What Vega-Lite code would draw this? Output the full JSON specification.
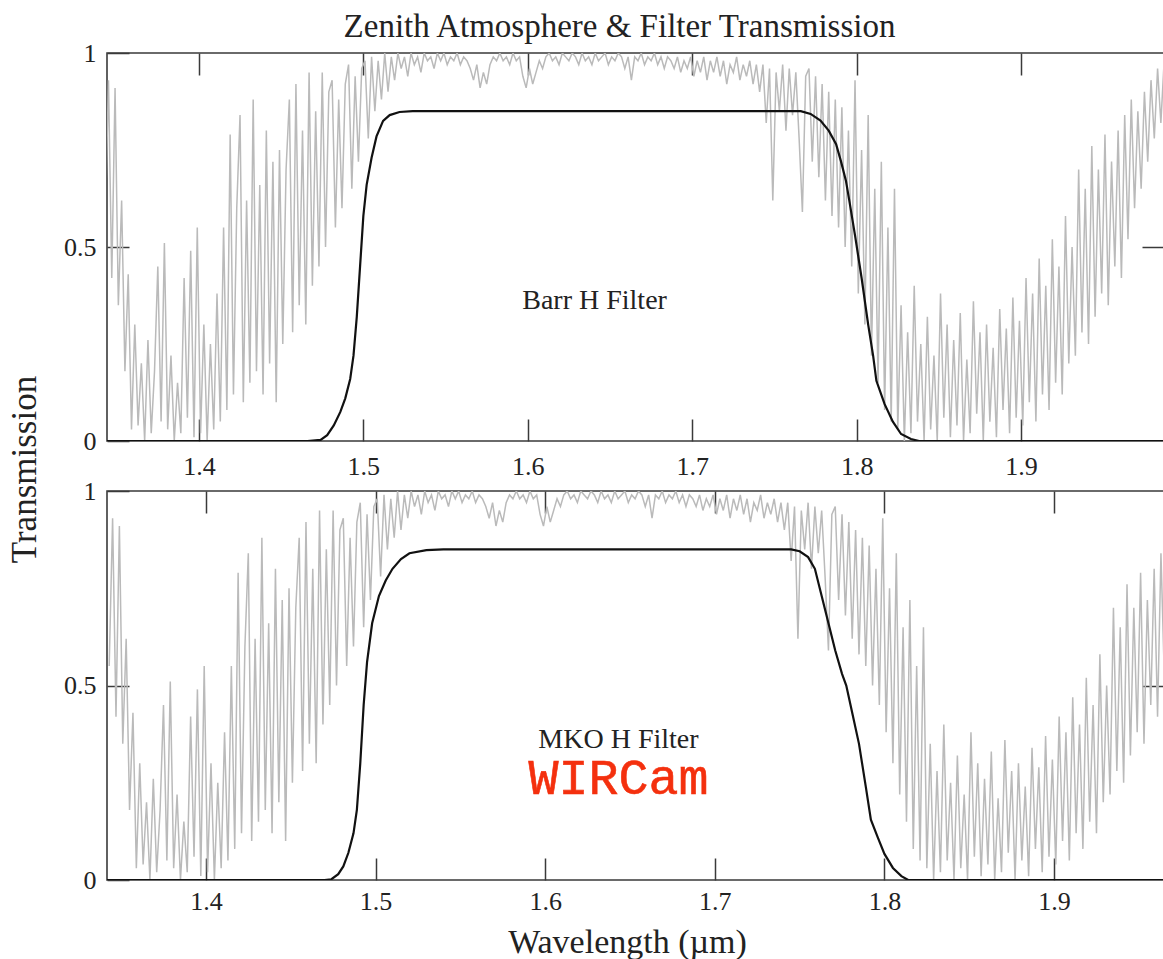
{
  "$schema": "https://vega.github.io/schema/vega-lite/v6.json",
  "background": "white",
  "padding": {"left": 6, "top": 11, "right": 0, "bottom": 0},
  "title": {"text": "Zenith Atmosphere & Filter Transmission", "font": "Liberation Serif", "fontSize": 33, "fontWeight": "normal", "color": "#222222", "anchor": "middle", "frame": "group", "baseline": "alphabetic", "offset": -31, "dx": -16},
  "config": {
    "font": "Liberation Serif",
    "view": {"stroke": "#3a3a3a", "strokeWidth": 1.6},
    "axis": {"grid": false, "domain": false, "tickColor": "#3a3a3a", "tickWidth": 1.5, "labelColor": "#222222", "labelFont": "Liberation Serif", "titleFont": "Liberation Serif", "titleColor": "#222222", "titleFontWeight": "normal", "labelFlush": false}
  },
  "bounds": "flush",
  "spacing": 50,
  "datasets": {
    "atm": [
      {"w":1.343,"t":0.55},{"w":1.345,"t":0.93},{"w":1.347,"t":0.42},{"w":1.349,"t":0.91},{"w":1.351,"t":0.35},{"w":1.353,"t":0.62},{"w":1.355,"t":0.18},{"w":1.357,"t":0.43},
      {"w":1.359,"t":0.03},{"w":1.361,"t":0.30},{"w":1.363,"t":0.04},{"w":1.365,"t":0.20},{"w":1.367,"t":0.0},{"w":1.369,"t":0.26},{"w":1.371,"t":0.02},{"w":1.373,"t":0.18},{"w":1.375,"t":0.45},{"w":1.377,"t":0.05},{"w":1.379,"t":0.51},{"w":1.381,"t":0.03},{"w":1.383,"t":0.22},{"w":1.385,"t":0.0},{"w":1.387,"t":0.15},{"w":1.389,"t":0.02},{"w":1.391,"t":0.42},{"w":1.393,"t":0.06},{"w":1.395,"t":0.49},{"w":1.397,"t":0.01},{"w":1.399,"t":0.55},{"w":1.401,"t":0.02},{"w":1.403,"t":0.30},{"w":1.405,"t":0.0},{"w":1.407,"t":0.25},{"w":1.409,"t":0.03},{"w":1.411,"t":0.38},
      {"w":1.413,"t":0.05},{"w":1.415,"t":0.55},{"w":1.417,"t":0.08},{"w":1.419,"t":0.79},{"w":1.421,"t":0.12},{"w":1.423,"t":0.60},{"w":1.425,"t":0.84},{"w":1.427,"t":0.10},{"w":1.429,"t":0.62},{"w":1.431,"t":0.15},{"w":1.433,"t":0.88},{"w":1.435,"t":0.18},{"w":1.437,"t":0.66},{"w":1.439,"t":0.12},
      {"w":1.441,"t":0.80},{"w":1.443,"t":0.20},{"w":1.445,"t":0.72},{"w":1.447,"t":0.10},{"w":1.449,"t":0.75},{"w":1.451,"t":0.25},{"w":1.453,"t":0.70},{"w":1.455,"t":0.88},{"w":1.457,"t":0.28},{"w":1.459,"t":0.92},{"w":1.461,"t":0.35},{"w":1.463,"t":0.80},{"w":1.465,"t":0.30},{"w":1.467,"t":0.95},{"w":1.469,"t":0.40},
      {"w":1.471,"t":0.85},{"w":1.473,"t":0.45},{"w":1.475,"t":0.95},{"w":1.477,"t":0.50},{"w":1.479,"t":0.90},{"w":1.481,"t":0.93},{"w":1.483,"t":0.55},{"w":1.485,"t":0.88},{"w":1.487,"t":0.60},{"w":1.489,"t":0.92},{"w":1.491,"t":0.97},{"w":1.493,"t":0.65},{"w":1.495,"t":0.94},{"w":1.497,"t":0.72},{"w":1.499,"t":0.96},{"w":1.501,"t":0.98},
      {"w":1.503,"t":0.78},{"w":1.505,"t":0.99},{"w":1.507,"t":0.85},{"w":1.509,"t":0.98},{"w":1.511,"t":0.88},{"w":1.513,"t":1.0},{"w":1.515,"t":0.90},{"w":1.517,"t":0.99},{"w":1.519,"t":0.93},{"w":1.521,"t":1.0},
      {"w":1.523,"t":0.96},{"w":1.525,"t":0.99},{"w":1.527,"t":0.94},{"w":1.529,"t":1.0},{"w":1.531,"t":0.97},{"w":1.533,"t":0.99},{"w":1.535,"t":0.95},{"w":1.537,"t":1.0},{"w":1.539,"t":0.98},{"w":1.541,"t":0.99},{"w":1.543,"t":0.96},{"w":1.545,"t":1.0},{"w":1.547,"t":0.98},{"w":1.549,"t":1.0},{"w":1.551,"t":0.97},{"w":1.553,"t":0.99},{"w":1.555,"t":0.98},{"w":1.557,"t":1.0},{"w":1.559,"t":0.97},{"w":1.561,"t":0.99},{"w":1.563,"t":0.98},{"w":1.565,"t":0.96},{"w":1.567,"t":0.93},{"w":1.569,"t":0.97},{"w":1.571,"t":0.91},{"w":1.573,"t":0.95},{"w":1.575,"t":0.92},{"w":1.577,"t":0.97},{"w":1.579,"t":0.99},{"w":1.581,"t":0.98},{"w":1.583,"t":1.0},{"w":1.585,"t":0.98},{"w":1.587,"t":0.99},{"w":1.589,"t":0.97},{"w":1.591,"t":1.0},{"w":1.593,"t":0.98},{"w":1.595,"t":0.99},{"w":1.597,"t":0.94},{"w":1.599,"t":0.91},{"w":1.601,"t":0.96},{"w":1.603,"t":0.92},{"w":1.605,"t":0.95},{"w":1.607,"t":0.98},{"w":1.609,"t":0.96},{"w":1.611,"t":0.99},{"w":1.613,"t":1.0},{"w":1.615,"t":0.98},{"w":1.617,"t":0.99},{"w":1.619,"t":0.97},{"w":1.621,"t":1.0},{"w":1.623,"t":0.99},{"w":1.625,"t":0.98},{"w":1.627,"t":1.0},{"w":1.629,"t":0.99},{"w":1.631,"t":0.97},{"w":1.633,"t":1.0},{"w":1.635,"t":0.98},{"w":1.637,"t":0.99},{"w":1.639,"t":0.97},{"w":1.641,"t":1.0},{"w":1.643,"t":0.98},{"w":1.645,"t":0.99},{"w":1.647,"t":1.0},{"w":1.649,"t":0.97},{"w":1.651,"t":0.99},{"w":1.653,"t":0.98},{"w":1.655,"t":1.0},{"w":1.657,"t":0.99},{"w":1.659,"t":0.96},{"w":1.661,"t":0.99},{"w":1.663,"t":0.93},{"w":1.665,"t":0.99},{"w":1.667,"t":0.98},{"w":1.669,"t":1.0},{"w":1.671,"t":0.97},{"w":1.673,"t":0.99},{"w":1.675,"t":0.98},{"w":1.677,"t":1.0},{"w":1.679,"t":0.97},{"w":1.681,"t":0.99},{"w":1.683,"t":0.96},{"w":1.685,"t":0.99},{"w":1.687,"t":0.98},{"w":1.689,"t":0.96},{"w":1.691,"t":0.99},{"w":1.693,"t":0.95},{"w":1.695,"t":0.98},{"w":1.697,"t":0.96},{"w":1.699,"t":0.99},{"w":1.701,"t":0.94},{"w":1.703,"t":0.98},{"w":1.705,"t":0.95},{"w":1.707,"t":0.99},{"w":1.709,"t":0.93},{"w":1.711,"t":0.98},{"w":1.713,"t":0.95},{"w":1.715,"t":0.99},{"w":1.717,"t":0.94},{"w":1.719,"t":0.98},{"w":1.721,"t":0.92},{"w":1.723,"t":0.97},{"w":1.725,"t":0.95},{"w":1.727,"t":0.99},{"w":1.729,"t":0.93},{"w":1.731,"t":0.97},{"w":1.733,"t":0.94},{"w":1.735,"t":0.98},{"w":1.737,"t":0.92},{"w":1.739,"t":0.97},
      {"w":1.741,"t":0.90},{"w":1.743,"t":0.97},{"w":1.745,"t":0.82},{"w":1.747,"t":0.96},{"w":1.749,"t":0.62},{"w":1.751,"t":0.95},{"w":1.753,"t":0.85},{"w":1.755,"t":0.97},{"w":1.757,"t":0.80},{"w":1.759,"t":0.96},{"w":1.761,"t":0.84},{"w":1.763,"t":0.95},{"w":1.765,"t":0.78},{"w":1.767,"t":0.59},{"w":1.769,"t":0.94},
      {"w":1.771,"t":0.96},{"w":1.773,"t":0.72},{"w":1.775,"t":0.94},{"w":1.777,"t":0.68},{"w":1.779,"t":0.92},{"w":1.781,"t":0.62},{"w":1.783,"t":0.90},{"w":1.785,"t":0.58},{"w":1.787,"t":0.88},{"w":1.789,"t":0.55},{"w":1.791,"t":0.86},{"w":1.793,"t":0.50},{"w":1.795,"t":0.80},{"w":1.797,"t":0.45},{"w":1.799,"t":0.93},
      {"w":1.801,"t":0.38},{"w":1.803,"t":0.75},{"w":1.805,"t":0.30},{"w":1.807,"t":0.84},{"w":1.809,"t":0.22},{"w":1.811,"t":0.65},{"w":1.813,"t":0.15},{"w":1.815,"t":0.72},{"w":1.817,"t":0.08},{"w":1.819,"t":0.55},{"w":1.821,"t":0.05},
      {"w":1.823,"t":0.65},{"w":1.825,"t":0.03},{"w":1.827,"t":0.35},{"w":1.829,"t":0.0},{"w":1.831,"t":0.28},{"w":1.833,"t":0.02},{"w":1.835,"t":0.40},{"w":1.837,"t":0.05},{"w":1.839,"t":0.25},{"w":1.841,"t":0.0},{"w":1.843,"t":0.32},{"w":1.845,"t":0.03},{"w":1.847,"t":0.22},{"w":1.849,"t":0.0},{"w":1.851,"t":0.38},{"w":1.853,"t":0.06},{"w":1.855,"t":0.30},{"w":1.857,"t":0.01},{"w":1.859,"t":0.26},{"w":1.861,"t":0.04},{"w":1.863,"t":0.33},{"w":1.865,"t":0.0},{"w":1.867,"t":0.21},{"w":1.869,"t":0.02},{"w":1.871,"t":0.36},{"w":1.873,"t":0.07},{"w":1.875,"t":0.28},{"w":1.877,"t":0.0},{"w":1.879,"t":0.30},{"w":1.881,"t":0.05},{"w":1.883,"t":0.24},{"w":1.885,"t":0.01},{"w":1.887,"t":0.34},{"w":1.889,"t":0.08},{"w":1.891,"t":0.29},{"w":1.893,"t":0.02},{"w":1.895,"t":0.37},{"w":1.897,"t":0.06},{"w":1.899,"t":0.31},{"w":1.901,"t":0.04},
      {"w":1.903,"t":0.42},{"w":1.905,"t":0.10},{"w":1.907,"t":0.38},{"w":1.909,"t":0.05},{"w":1.911,"t":0.47},{"w":1.913,"t":0.12},{"w":1.915,"t":0.40},{"w":1.917,"t":0.08},{"w":1.919,"t":0.52},{"w":1.921,"t":0.15},{"w":1.923,"t":0.45},{"w":1.925,"t":0.12},{"w":1.927,"t":0.58},{"w":1.929,"t":0.20},{"w":1.931,"t":0.50},
      {"w":1.933,"t":0.22},{"w":1.935,"t":0.70},{"w":1.937,"t":0.28},{"w":1.939,"t":0.65},{"w":1.941,"t":0.25},{"w":1.943,"t":0.76},{"w":1.945,"t":0.32},{"w":1.947,"t":0.70},{"w":1.949,"t":0.38},{"w":1.951,"t":0.79},{"w":1.953,"t":0.35},{"w":1.955,"t":0.72},{"w":1.957,"t":0.45},{"w":1.959,"t":0.80},{"w":1.961,"t":0.42},
      {"w":1.963,"t":0.84},{"w":1.965,"t":0.52},{"w":1.967,"t":0.88},{"w":1.969,"t":0.60},{"w":1.971,"t":0.85},{"w":1.973,"t":0.65},{"w":1.975,"t":0.90},{"w":1.977,"t":0.72},{"w":1.979,"t":0.93},{"w":1.981,"t":0.78},{"w":1.983,"t":0.96},{"w":1.985,"t":0.82},{"w":1.987,"t":0.98},{"w":1.989,"t":0.88},{"w":1.991,"t":0.97}
    ],
    "barr": [
      {"w":1.34,"t":0},{"w":1.466,"t":0},{"w":1.474,"t":0.003},{"w":1.478,"t":0.015},{"w":1.482,"t":0.04},{"w":1.486,"t":0.075},{"w":1.489,"t":0.11},{"w":1.492,"t":0.16},{"w":1.494,"t":0.22},{"w":1.496,"t":0.32},{"w":1.498,"t":0.45},{"w":1.500,"t":0.58},{"w":1.502,"t":0.66},{"w":1.505,"t":0.73},{"w":1.508,"t":0.785},{"w":1.512,"t":0.825},{"w":1.516,"t":0.84},{"w":1.522,"t":0.848},{"w":1.53,"t":0.85},
      {"w":1.766,"t":0.85},{"w":1.772,"t":0.843},{"w":1.778,"t":0.826},{"w":1.783,"t":0.80},{"w":1.7875,"t":0.765},{"w":1.7905,"t":0.72},{"w":1.7935,"t":0.67},{"w":1.7955,"t":0.62},{"w":1.799,"t":0.53},{"w":1.803,"t":0.42},{"w":1.807,"t":0.30},{"w":1.810,"t":0.22},{"w":1.812,"t":0.155},{"w":1.817,"t":0.095},{"w":1.822,"t":0.05},{"w":1.827,"t":0.018},{"w":1.833,"t":0.005},{"w":1.838,"t":0},{"w":1.99,"t":0}
    ],
    "mko": [
      {"w":1.34,"t":0},{"w":1.470,"t":0},{"w":1.474,"t":0.002},{"w":1.478,"t":0.015},{"w":1.481,"t":0.035},{"w":1.484,"t":0.07},{"w":1.487,"t":0.12},{"w":1.489,"t":0.18},{"w":1.491,"t":0.30},{"w":1.493,"t":0.45},{"w":1.495,"t":0.56},{"w":1.498,"t":0.66},{"w":1.502,"t":0.73},{"w":1.506,"t":0.77},{"w":1.510,"t":0.80},{"w":1.515,"t":0.825},{"w":1.520,"t":0.84},{"w":1.530,"t":0.848},{"w":1.540,"t":0.85},
      {"w":1.745,"t":0.85},{"w":1.750,"t":0.845},{"w":1.755,"t":0.83},{"w":1.759,"t":0.80},{"w":1.763,"t":0.73},{"w":1.767,"t":0.66},{"w":1.771,"t":0.59},{"w":1.775,"t":0.53},{"w":1.7775,"t":0.50},{"w":1.781,"t":0.43},{"w":1.785,"t":0.35},{"w":1.789,"t":0.24},{"w":1.792,"t":0.155},{"w":1.796,"t":0.11},{"w":1.800,"t":0.067},{"w":1.805,"t":0.031},{"w":1.810,"t":0.01},{"w":1.814,"t":0},{"w":1.99,"t":0}
    ],
    "labelsTop": [{"w":1.6406,"t":0.34,"label":"Barr H Filter"}],
    "labelsBottom": [{"w":1.6432,"t":0.339,"label":"MKO H Filter"}],
    "wircam": [{"w":1.6432,"t":0.221,"label":"WIRCam"}]
  },
  "vconcat": [
    {
      "width": 1057,
      "height": 388,
      "resolve": {"axis": {"x": "independent", "y": "independent"}},
      "layer": [
        {
          "data": {"name": "atm"},
          "mark": {"type": "line", "color": "#bababa", "strokeWidth": 1.5, "clip": true},
          "encoding": {
            "x": {"field": "w", "type": "quantitative", "scale": {"domain": [1.3441, 1.9869], "nice": false, "zero": false},
                  "axis": {"orient": "bottom", "values": [1.4, 1.5, 1.6, 1.7, 1.8, 1.9], "format": ".1f", "title": null, "tickSize": -22, "labelPadding": 34, "labelDx": 9, "labelFontSize": 26}},
            "y": {"field": "t", "type": "quantitative", "scale": {"domain": [0, 1], "nice": false, "zero": false},
                  "axis": {"orient": "left", "values": [0, 0.5, 1], "format": "~g", "tickSize": -22, "labelPadding": 33, "labelDy": 4, "labelFontSize": 26,
                           "title": "Transmission", "titleFontSize": 35, "titleX": -72, "titleY": 416, "titleAngle": 270, "titleBaseline": "alphabetic", "titleAlign": "center"}}
          }
        },
        {
          "data": {"name": "barr"},
          "mark": {"type": "line", "color": "#111111", "strokeWidth": 2.2, "clip": true},
          "encoding": {
            "x": {"field": "w", "type": "quantitative", "axis": {"orient": "top", "values": [1.4, 1.5, 1.6, 1.7, 1.8, 1.9], "labels": false, "title": null, "tickSize": -22}},
            "y": {"field": "t", "type": "quantitative", "axis": {"orient": "right", "values": [0.5], "labels": false, "title": null, "tickSize": -22}}
          }
        },
        {
          "data": {"name": "labelsTop"},
          "mark": {"type": "text", "font": "Liberation Serif", "fontSize": 28, "color": "#222222", "align": "center", "baseline": "alphabetic"},
          "encoding": {
            "x": {"field": "w", "type": "quantitative", "axis": null},
            "y": {"field": "t", "type": "quantitative", "axis": null},
            "text": {"field": "label"}
          }
        }
      ]
    },
    {
      "width": 1057,
      "height": 389,
      "resolve": {"axis": {"x": "independent", "y": "independent"}},
      "layer": [
        {
          "data": {"name": "atm"},
          "mark": {"type": "line", "color": "#bababa", "strokeWidth": 1.5, "clip": true},
          "encoding": {
            "x": {"field": "w", "type": "quantitative", "scale": {"domain": [1.3417, 1.9648], "nice": false, "zero": false},
                  "axis": {"orient": "bottom", "values": [1.4, 1.5, 1.6, 1.7, 1.8, 1.9], "format": ".1f", "tickSize": -22, "labelPadding": 30, "labelDx": 9, "labelFontSize": 26,
                           "title": "Wavelength (µm)", "titleFontSize": 34, "titleX": 520, "titleY": 72, "titleBaseline": "alphabetic", "titleAlign": "center"}},
            "y": {"field": "t", "type": "quantitative", "scale": {"domain": [0, 1], "nice": false, "zero": false},
                  "axis": {"orient": "left", "values": [0, 0.5, 1], "format": "~g", "tickSize": -22, "labelPadding": 33, "labelDy": 4, "labelFontSize": 26, "title": null}}
          }
        },
        {
          "data": {"name": "mko"},
          "mark": {"type": "line", "color": "#111111", "strokeWidth": 2.2, "clip": true},
          "encoding": {
            "x": {"field": "w", "type": "quantitative", "axis": {"orient": "top", "values": [1.4, 1.5, 1.6, 1.7, 1.8, 1.9], "labels": false, "title": null, "tickSize": -22}},
            "y": {"field": "t", "type": "quantitative", "axis": {"orient": "right", "values": [0.5], "labels": false, "title": null, "tickSize": -22}}
          }
        },
        {
          "data": {"name": "labelsBottom"},
          "mark": {"type": "text", "font": "Liberation Serif", "fontSize": 28, "color": "#222222", "align": "center", "baseline": "alphabetic"},
          "encoding": {
            "x": {"field": "w", "type": "quantitative", "axis": null},
            "y": {"field": "t", "type": "quantitative", "axis": null},
            "text": {"field": "label"}
          }
        },
        {
          "data": {"name": "wircam"},
          "mark": {"type": "text", "font": "Liberation Mono", "fontSize": 50, "color": "#f4300e", "stroke": "#f4300e", "strokeWidth": 0.6, "align": "center", "baseline": "alphabetic"},
          "encoding": {
            "x": {"field": "w", "type": "quantitative", "axis": null},
            "y": {"field": "t", "type": "quantitative", "axis": null},
            "text": {"field": "label"}
          }
        }
      ]
    }
  ]
}
